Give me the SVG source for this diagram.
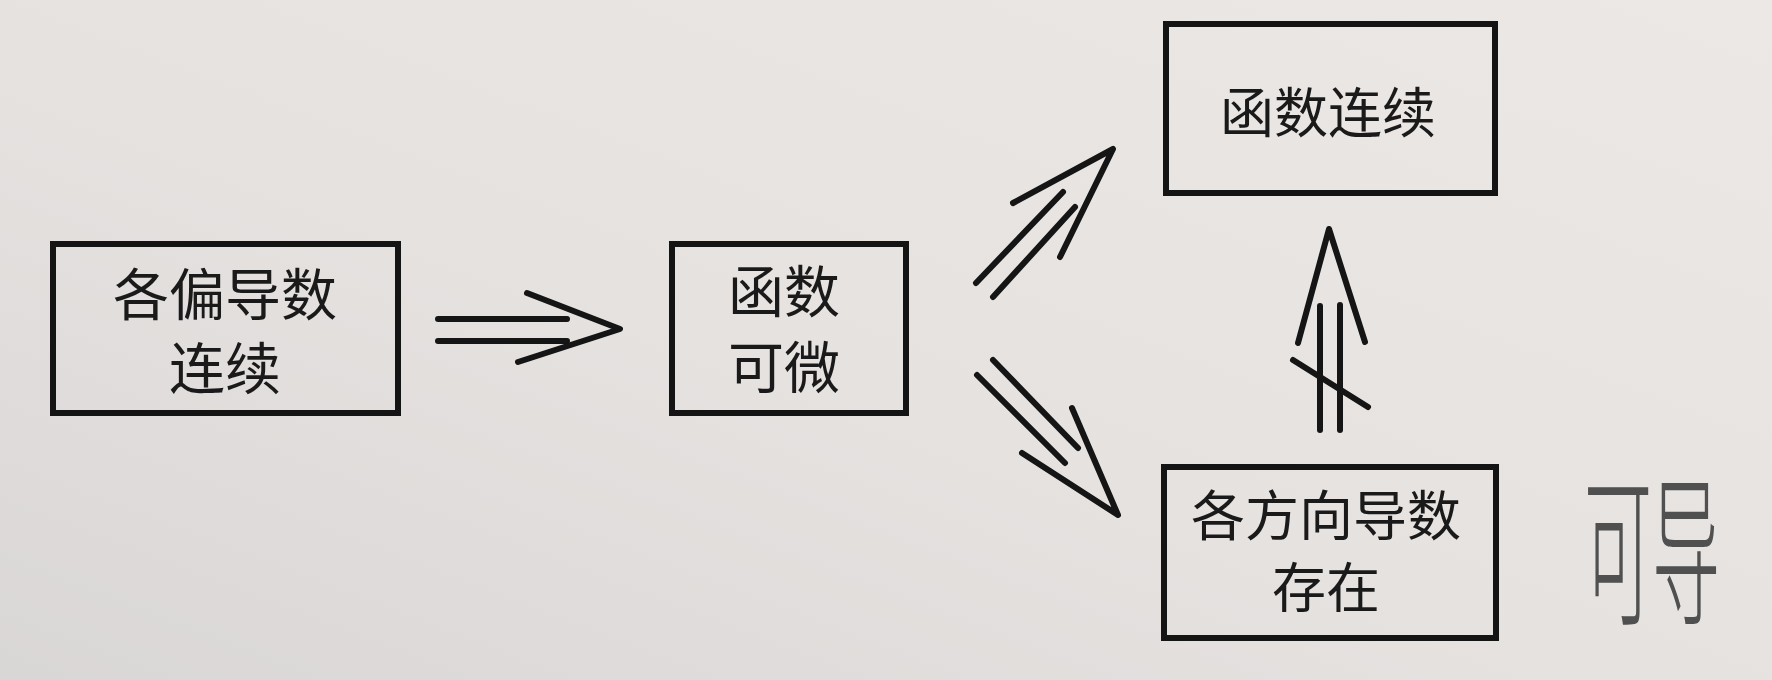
<svg xmlns="http://www.w3.org/2000/svg" width="1772" height="680" viewBox="0 0 1772 680">
<defs>
<linearGradient id="paper" x1="1" y1="0" x2="0" y2="1">
<stop offset="0" stop-color="#ece8e6"/>
<stop offset="0.55" stop-color="#e6e2e0"/>
<stop offset="1" stop-color="#d9d6d6"/>
</linearGradient>
<style>
.box{fill:none;stroke:#141414;stroke-width:6}
.lbl{font-family:"Noto Sans CJK SC","Noto Sans CJK JP",sans-serif;font-size:56px;fill:#1a1a1a;text-anchor:middle}
.con line,.con polyline{fill:none;stroke:#151515;stroke-width:6;stroke-linecap:round;stroke-linejoin:round}
.hand{font-family:"Noto Sans CJK SC",sans-serif;font-size:68px;font-weight:300;fill:#505050}
</style>
</defs>
<rect width="1772" height="680" fill="url(#paper)"/>
<g id="node-pianDao">
<rect class="box" x="53" y="244" width="345" height="169"/>
<text class="lbl" x="225" y="315">各偏导数</text>
<text class="lbl" x="225" y="389">连续</text>
</g>
<g id="node-keWei">
<rect class="box" x="672" y="244" width="234" height="169"/>
<text class="lbl" x="784" y="312">函数</text>
<text class="lbl" x="784" y="388">可微</text>
</g>
<g id="node-lianXu">
<rect class="box" x="1166" y="24" width="329" height="169"/>
<text class="lbl" x="1328" y="133" style="font-size:54px">函数连续</text>
</g>
<g id="node-fangXiang">
<rect class="box" x="1164" y="467" width="332" height="171"/>
<text class="lbl" x="1326" y="536" style="font-size:54px">各方向导数</text>
<text class="lbl" x="1326" y="608" style="font-size:54px">存在</text>
</g>
<g id="connectors" class="con">
<line x1="438" y1="319" x2="567" y2="319"/>
<line x1="438" y1="341" x2="567" y2="341"/>
<polyline points="527,293 620,329 518,362"/>
<line x1="976" y1="283" x2="1063" y2="192"/>
<line x1="993" y1="297" x2="1075" y2="207"/>
<polyline points="1013,203 1113,149 1060,257"/>
<line x1="993" y1="360" x2="1078" y2="448"/>
<line x1="977" y1="375" x2="1065" y2="463"/>
<polyline points="1072,408 1118,515 1022,453"/>
<line x1="1320" y1="306" x2="1320" y2="430"/>
<line x1="1340" y1="305" x2="1340" y2="430"/>
<polyline points="1298,343 1329,229 1365,342"/>
<line x1="1293" y1="360" x2="1368" y2="407"/>
</g>
<g id="note">
<text class="hand" transform="translate(1584,612) scale(1,2.4)">可导</text>
</g>
</svg>
